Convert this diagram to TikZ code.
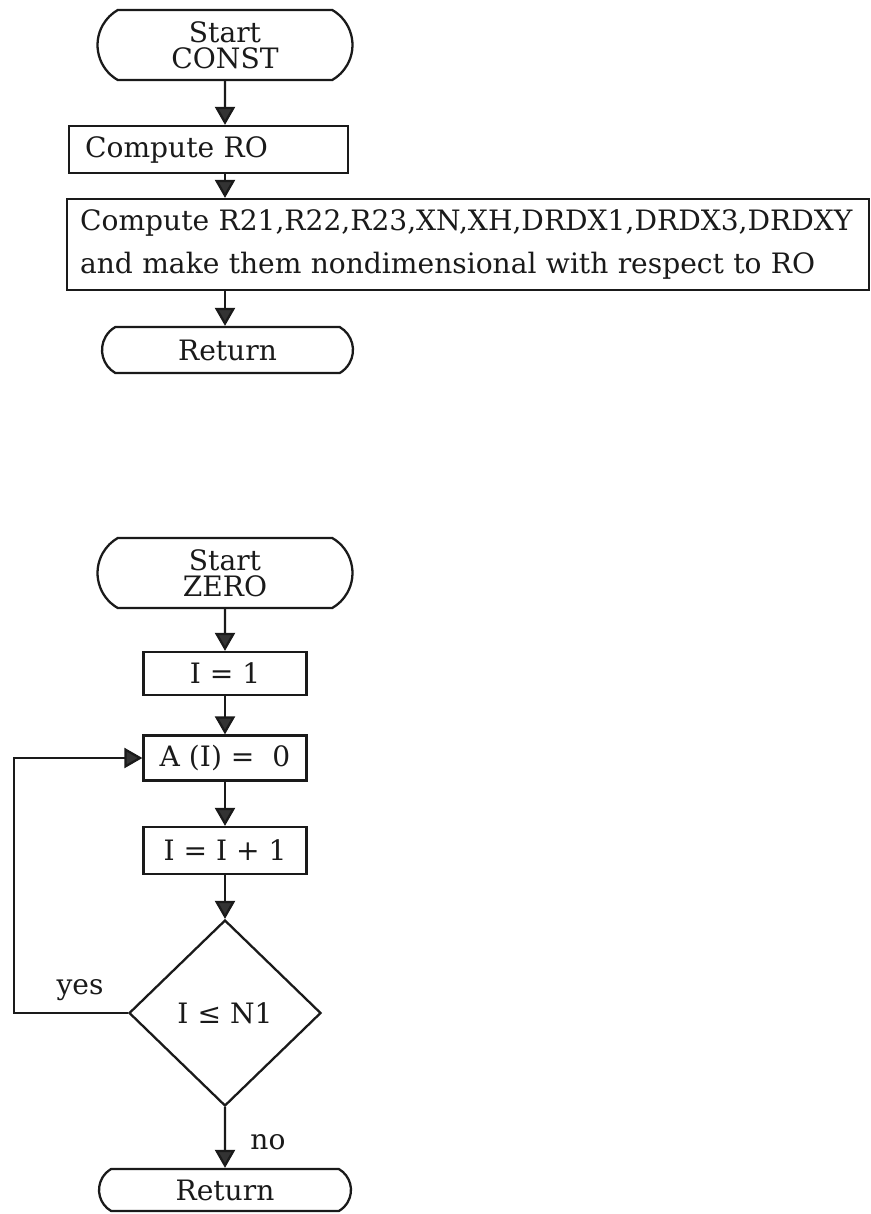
\documentclass[tikz,border=0pt]{standalone}
\usepackage{fontspec}
\setmainfont{DejaVu Serif}
\usepackage{xcolor}
\usepackage{tikz}
\usetikzlibrary{positioning,arrows.meta,shapes.geometric,shapes.misc}
\definecolor{ink}{HTML}{1A1A1A}
\definecolor{head}{HTML}{333333}
\tikzset{
  term/.style={draw=ink, line width=1.3pt, rounded rectangle, rounded rectangle arc length=120,
               align=center, font=\fontsize{16}{15}\selectfont, text=ink, inner sep=0pt,
               minimum width=5.1cm, minimum height=1.4cm},
  box/.style={draw=ink, line width=1.3pt, align=center, font=\fontsize{16}{24}\selectfont,
              text=ink, inner sep=0pt, minimum width=3.26cm, minimum height=0.9cm},
  cond/.style={draw=ink, line width=1.3pt, diamond, font=\fontsize{16}{18}\selectfont,
               text=ink, inner sep=0pt, minimum width=3.84cm, minimum height=3.72cm},
  lbl/.style={font=\fontsize{16}{18}\selectfont, text=ink},
  arr/.style={-{Triangle[length=0.36cm, width=0.4cm, fill=head]}, line width=1.3pt, draw=ink},
}
\begin{document}
\begin{tikzpicture}[x=0.02cm, y=-0.02cm]
  \useasboundingbox (0,0) rectangle (871,1214);
  % subroutine CONST
  \node[term] (startA) at (225,45) {Start\\CONST};
  \node[box, anchor=west, align=left, inner xsep=0.32cm, text width=4.94cm,
        minimum height=0.94cm] (ro) at (68,149.5) {Compute RO};
  \node[box, anchor=west, align=left, inner xsep=0.26cm, text width=15.52cm,
        minimum height=1.82cm] (big) at (66,244.5)
    {Compute~R21,R22,R23,XN,XH,DRDX1,DRDX3,DRDXY\\
     and make them nondimensional with respect to RO};
  \node[term, minimum width=5.02cm, minimum height=0.92cm] (retA) at (227.5,350) {Return};
  \draw[arr] (startA) -- (startA |- ro.north);
  \draw[arr] (ro.south -| startA) -- (startA |- big.north);
  \draw[arr] (big.south -| startA) -- (startA |- retA.north);
  % subroutine ZERO
  \node[term] (startB) at (225,573) {Start\\ZERO};
  \node[box, minimum height=0.86cm] (i1) at (225,673.5) {I = 1};
  \node[box] (a0) at (225,758) {A (I) =\ \ 0};
  \node[box, minimum height=0.94cm] (inc) at (225,850.5) {I = I + 1};
  \node[cond] (test) at (225,1013) {I ≤ N1};
  \node[term, minimum width=5.04cm, minimum height=0.84cm] (retB) at (225,1190) {Return};
  \coordinate (loop) at (14,1013);
  \node[lbl] (yes) at (80,990) {yes};
  \node[lbl] (no) at (268,1142) {no};
  \draw[arr] (startB) -- (i1);
  \draw[arr] (i1) -- (a0);
  \draw[arr] (a0) -- (inc);
  \draw[arr] (inc) -- (test);
  \draw[arr] (test) -- (retB);
  \draw[arr] (test.west) -- (loop) |- (a0.west);
\end{tikzpicture}
\end{document}
